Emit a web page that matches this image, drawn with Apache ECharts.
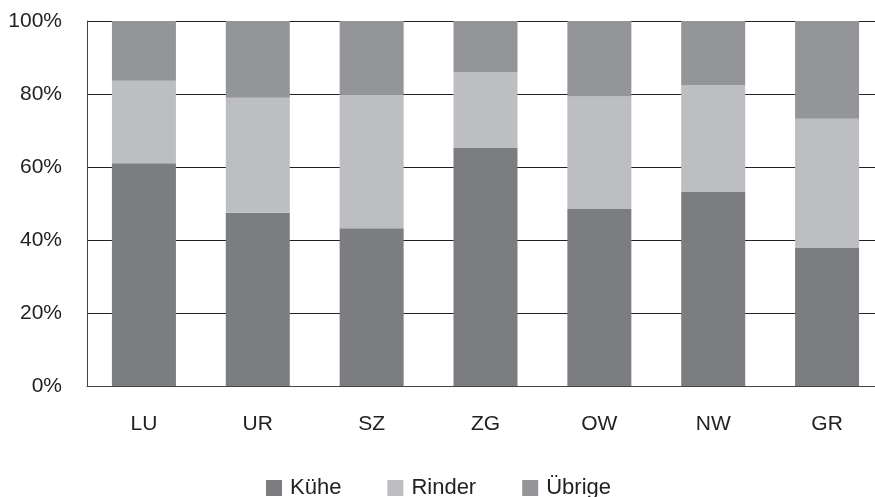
<!DOCTYPE html>
<html>
<head>
<meta charset="utf-8">
<script src="https://cdn.jsdelivr.net/npm/echarts@6/dist/echarts.min.js"></script>
<style>html,body{margin:0;padding:0;background:#fff;}#c{width:875px;height:497px;}</style>
</head>
<body>
<div id="c"></div>
<script>
const categories = ['LU', 'UR', 'SZ', 'ZG', 'OW', 'NW', 'GR'];
const kuehe = [61.0, 47.5, 43.2, 65.2, 48.5, 53.3, 37.8];
const rinder = [22.6, 31.5, 36.5, 20.8, 30.8, 29.1, 35.4];
const uebrige = [16.4, 21.0, 20.3, 14.0, 20.7, 17.6, 26.8];
const yTicks = [0, 20, 40, 60, 80, 100];

const font = '"Liberation Sans", Arial, sans-serif';
const chart = echarts.init(document.getElementById('c'), null, {renderer: 'canvas'});
chart.setOption({
  animation: false,
  backgroundColor: '#fff',
  grid: {left: 87, top: 21, width: 797, height: 365, containLabel: false, outerBoundsMode: 'none'},
  legend: {
    data: ['Kühe', 'Rinder', 'Übrige'],
    left: 261, top: 472,
    itemWidth: 16, itemHeight: 16, itemGap: 46,
    icon: 'rect',
    textStyle: {fontFamily: font, fontSize: 22, color: '#222', padding: [2, 0, 0, 3]}
  },
  xAxis: {
    type: 'category',
    data: categories,
    axisLine: {show: true, lineStyle: {color: '#444', width: 1}},
    axisTick: {show: false},
    axisLabel: {fontFamily: font, fontSize: 21, color: '#222', margin: 28}
  },
  yAxis: {
    type: 'value',
    min: yTicks[0], max: yTicks[yTicks.length - 1], interval: 20,
    axisLine: {show: true, lineStyle: {color: '#444', width: 1}},
    axisTick: {show: false},
    splitLine: {show: true, lineStyle: {color: '#222', width: 1}},
    axisLabel: {fontFamily: font, fontSize: 21, color: '#222', margin: 25, formatter: '{value}%'}
  },
  series: [
    {name: 'Kühe', type: 'bar', stack: 's', data: kuehe, barWidth: 64, itemStyle: {color: '#7c7d80'}},
    {name: 'Rinder', type: 'bar', stack: 's', data: rinder, barWidth: 64, itemStyle: {color: '#bdbec1'}},
    {name: 'Übrige', type: 'bar', stack: 's', data: uebrige, barWidth: 64, itemStyle: {color: '#949598'}}
  ]
});
</script>
</body>
</html>
